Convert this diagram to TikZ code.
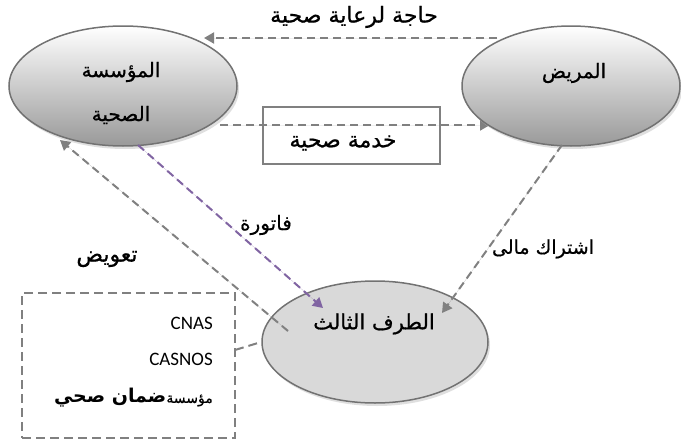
\documentclass[tikz,border=0pt]{standalone}
\usepackage{fontspec}
\setmainfont{Carlito}
\newfontfamily\arabicfont[Script=Arabic,FakeBold=0.7]{DejaVu Sans}
\newfontfamily\arabicboldfont[Script=Arabic]{DejaVu Sans Bold}
\TeXXeTstate=1
\usetikzlibrary{shapes.geometric,shadows,arrows.meta}
\definecolor{linegray}{HTML}{808080}
\definecolor{rimgray}{HTML}{727272}
\definecolor{billpurple}{HTML}{8064A2}
\tikzset{
  party/.style={ellipse, draw=rimgray, line width=1.5pt, inner sep=0pt,
    drop shadow={shadow xshift=2pt, shadow yshift=-3pt, fill=black!25}},
  lightparty/.style={party, top color=white, bottom color=black!40},
  plainparty/.style={party, fill=black!15},
  tip/.style={-{Triangle[length=10pt,width=11pt]}},
  flow/.style={draw=linegray, line width=2pt, dash pattern=on 8pt off 5pt, tip},
  billflow/.style={flow, draw=billpurple, fill=billpurple},
  ar/.style={font=\arabicfont\fontsize{20}{24}\selectfont, inner sep=0pt},
  lat/.style={font=\fontsize{19}{22}\selectfont, inner sep=0pt, anchor=east},
}
\begin{document}
\begin{tikzpicture}[x=1pt,y=-1pt]
\useasboundingbox (0,0) rectangle (681,442);

% service box and the two horizontal flows
\node[draw=linegray, line width=1.5pt, minimum width=177pt, minimum height=57pt, inner sep=0pt] (svcbox) at (351.5,135.5) {};
\node[ar, font=\arabicfont\fontsize{22}{26}\selectfont] (svclbl) at (343,143) {\beginR خدمة صحية\endR};

\coordinate (needS) at (497,38);
\coordinate (needE) at (204,38);
\draw[flow, fill=linegray] (needS) -- (needE);
\node[ar, font=\arabicfont\fontsize{22}{26}\selectfont] (needlbl) at (354,17) {\beginR حاجة لرعاية صحية\endR};

\coordinate (svcS) at (220,125);
\coordinate (svcE) at (490,125);
\draw[flow, fill=linegray] (svcS) -- (svcE);

% the three parties
\node[lightparty, minimum width=228pt, minimum height=120pt] (inst) at (123,86) {};
\node[lightparty, minimum width=218pt, minimum height=120pt] (pat) at (571,86) {};
\node[plainparty, minimum width=226pt, minimum height=122pt] (third) at (375,342) {};

\node[ar] (instA) at (121,72) {\beginR المؤسسة\endR};
\node[ar] (instB) at (121,115) {\beginR الصحية\endR};
\node[ar] (patlbl) at (574,73) {\beginR المريض\endR};
\node[ar, font=\arabicfont\fontsize{21}{25}\selectfont] (thirdlbl) at (374,324) {\beginR الطرف الثالث\endR};

% invoice, subscription and compensation
\coordinate (billS) at (138,145);
\coordinate (billE) at (323,308);
\draw[billflow] (billS) -- (billE);
\node[ar] (billlbl) at (266,225) {\beginR فاتورة\endR};

\coordinate (subS) at (562,145);
\coordinate (subE) at (442,313);
\draw[flow, fill=linegray] (subS) -- (subE);
\node[ar, font=\arabicfont\fontsize{19}{23}\selectfont] (sublbl) at (543,249) {\beginR اشتراك مالى\endR};

\coordinate (compS) at (288,331);
\coordinate (compE) at (60,140);
\draw[flow, fill=linegray] (compS) -- (compE);
\node[ar, font=\arabicfont\fontsize{22}{26}\selectfont] (complbl) at (107,259) {\beginR تعويض\endR};

% insurers box
\node[draw=linegray, line width=2pt, dash pattern=on 9pt off 5pt, minimum width=213pt, minimum height=145pt, inner sep=0pt] (insbox) at (128.5,365.5) {};
\coordinate (insJ) at (235,350);
\draw[draw=linegray, line width=2pt, dash pattern=on 9pt off 5pt] (insJ) -- (third.west);
\node[lat] (cnas) at (213,323) {CNAS};
\node[lat] (casnos) at (213,359) {CASNOS};
\node[ar, anchor=east] (trust) at (213,398) {\beginR{\fontsize{14}{17}\selectfont مؤسسة}{\arabicboldfont\fontsize{19}{23}\selectfont ضمان صحي}\endR};
\end{tikzpicture}
\end{document}
